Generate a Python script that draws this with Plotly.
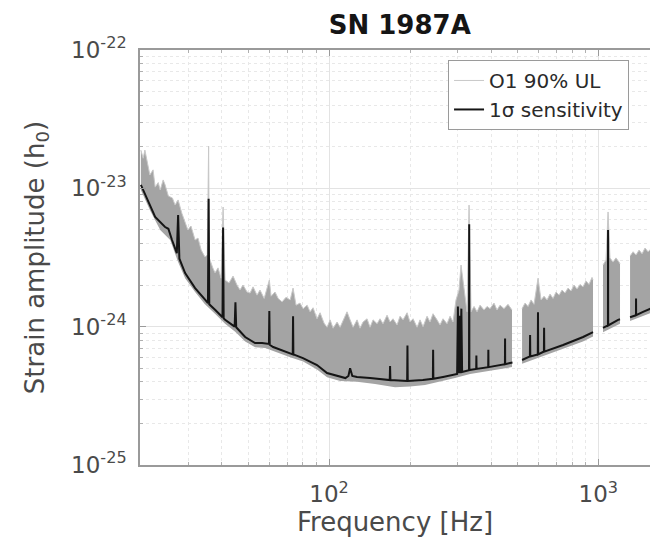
import plotly.graph_objects as go

# ---------------- data ----------------
# O1 90% upper limit: upper envelope of the noisy band (None = data gap)
ul_freq = [20.0, 20.4, 20.7, 21.1, 21.6, 22.2, 22.6, 23.2, 23.6, 24.2, 24.6, 25.3, 26.2, 26.8, 27.5,
           28.4, 29.2, 29.9, 30.7, 31.8, 32.6, 33.5, 34.6, 35.3, 35.7, 35.9, 37.0, 37.7, 38.7, 39.7,
           40.4, 41.1, 42.5, 44.0, 45.5, 46.7, 47.9, 49.6, 50.9, 52.2, 54.0, 55.4, 57.4, 60.0, 60.9,
           63.0, 64.7, 66.9, 69.2, 71.7, 73.5, 75.4, 78.0, 80.1, 82.9, 85.0, 87.2, 90.2, 92.6, 95.8,
           98.3, 100.9, 103.5, 107.1, 109.9, 113.7, 116.6, 119.7, 122.8, 127.1, 130.3, 133.7, 138.4,
           142.0, 145.7, 150.8, 154.6, 158.6, 164.2, 168.5, 172.8, 178.9, 183.5, 188.3, 194.9, 199.9,
           205.1, 212.3, 217.7, 223.4, 231.2, 237.1, 243.3, 251.8, 258.3, 265.0, 274.3, 281.4, 288.7,
           296.2, 303.9, 309.1, 314.4, 319.9, 325.4, 331.1, 336.8, 345.5, 354.5, 363.7, 376.4, 386.2,
           396.1, 409.9, 420.6, 431.5, 446.5, 462.0, 478.0, None,
           521, 534.5, 548.3, 562.6, 577.2, 597.2, 612.9, 628.8, 645.2, 661.8, 679.0, 696.7, 714.8,
           733.3, 752.3, 771.8, 792.0, 812.4, 833.6, 855.2, 877.4, 900.3, 923.6, 947.6, 955.7, None,
           1041, 1068, 1087, 1105, 1134, 1163, 1194, 1204, None,
           1312, 1346, 1381, 1417, 1454, 1491, 1530, 1556, 1590, 1620]
ul_high = [1.89e-23, 1.65e-23, 1.89e-23, 1.60e-23, 1.25e-23, 1.36e-23, 1.02e-23, 1.10e-23, 9.72e-24,
           1.15e-23, 1.06e-23, 8.8e-24, 8.5e-24, 7.57e-24, 8.24e-24, 6.6e-24, 5.7e-24, 5.0e-24,
           5.34e-24, 4.23e-24, 4.37e-24, 3.58e-24, 3.19e-24, 3.30e-24, 2.02e-23, 3.14e-24, 2.66e-24,
           2.45e-24, 2.66e-24, 2.24e-24, 7.33e-24, 2.17e-24, 2.07e-24, 2.32e-24, 2.00e-24, 1.84e-24,
           2.00e-24, 1.78e-24, 1.75e-24, 1.94e-24, 1.69e-24, 1.84e-24, 1.60e-24, 2.17e-24, 1.66e-24,
           1.78e-24, 1.60e-24, 1.51e-24, 1.63e-24, 1.56e-24, 1.90e-24, 1.43e-24, 1.48e-24, 1.35e-24,
           1.43e-24, 1.28e-24, 1.37e-24, 1.14e-24, 1.26e-24, 1.06e-24, 9.9e-25, 1.12e-24, 9.75e-25,
           1.08e-24, 9.9e-25, 1.14e-24, 1.28e-24, 1.12e-24, 9.9e-25, 1.12e-24, 9.75e-25, 1.08e-24,
           1.14e-24, 9.9e-25, 1.12e-24, 1.05e-24, 1.14e-24, 1.05e-24, 1.21e-24, 1.08e-24, 1.14e-24,
           1.03e-24, 1.19e-24, 1.12e-24, 1.26e-24, 1.08e-24, 1.14e-24, 9.9e-25, 1.12e-24, 1.0e-24,
           1.19e-24, 1.08e-24, 1.24e-24, 1.12e-24, 1.03e-24, 1.14e-24, 1.05e-24, 1.19e-24, 1.08e-24,
           1.56e-24, 1.84e-24, 2.79e-24, 2.17e-24, 1.56e-24, 1.28e-24, 7.57e-24, 1.28e-24, 1.40e-24,
           1.28e-24, 1.43e-24, 1.32e-24, 1.40e-24, 1.35e-24, 1.48e-24, 1.32e-24, 1.43e-24, 1.35e-24,
           1.45e-24, 1.32e-24, None,
           1.35e-24, 1.48e-24, 1.40e-24, 1.56e-24, 1.45e-24, 2.24e-24, 1.56e-24, 1.66e-24, 1.56e-24,
           1.72e-24, 1.60e-24, 1.78e-24, 1.69e-24, 1.84e-24, 1.75e-24, 1.90e-24, 1.81e-24, 2.00e-24,
           1.87e-24, 2.02e-24, 1.94e-24, 2.14e-24, 2.02e-24, 2.27e-24, 2.17e-24, None,
           2.79e-24, 3.03e-24, 6.75e-24, 3.14e-24, 2.93e-24, 3.14e-24, 2.93e-24, 2.84e-24, None,
           3.24e-24, 3.48e-24, 3.30e-24, 3.58e-24, 3.36e-24, 3.70e-24, 3.48e-24, 3.58e-24, 3.75e-24,
           3.6e-24]

# O1 90% upper limit: lower edge of the band
ul_low_freq = [20.0, 21.6, 23.6, 25.7, 27.5, 29.2, 31.8, 34.6, 37.7, 41.1, 44.8, 48.8, 53.1, 57.9,
               63.0, 71.7, 80.1, 90.2, 98.3, 109.9, 127.1, 148.2, 175.8, 199.9, 227.2, 265.0, 293.7,
               333.9, 396.1, 478.0, None,
               521, 623, 740, 877, 955.7, None,
               1041, 1204, None,
               1312, 1556, 1620]
ul_low = [9.72e-24, 6.97e-24, 5.0e-24, 4.23e-24, 2.93e-24, 2.24e-24, 1.78e-24, 1.45e-24, 1.24e-24,
          1.05e-24, 9.2e-25, 7.8e-25, 7.1e-25, 7.0e-25, 6.6e-25, 6.0e-25, 5.6e-25, 4.9e-25, 4.3e-25,
          4.05e-25, 4.0e-25, 3.85e-25, 3.65e-25, 3.7e-25, 3.79e-25, 4.05e-25, 4.25e-25, 4.55e-25,
          4.8e-25, 5.1e-25, None,
          5.4e-25, 6.1e-25, 6.9e-25, 7.8e-25, 8.5e-25, None,
          9.1e-25, 1.05e-24, None,
          1.10e-24, 1.25e-24, 1.28e-24]

# 1-sigma sensitivity curve
sens_freq = [20.0, 21.3, 22.6, 24.6, 25.3, 26.1, 27.2, 27.5, 27.8, 29.2, 31.8, 34.7, 35.5, 35.7, 35.9,
             37.8, 40.2, 40.4, 40.6, 41.1, 44.6, 44.9, 45.2, 48.8, 53.1, 56.4, 59.8, 60.0, 60.2, 62.0,
             71.7, 73.3, 73.5, 73.7, 80.0, 90.2, 98.3, 107, 115, 118, 119.7, 122, 127, 142, 168,
             168.5, 169, 195, 195.5, 196, 223, 243, 243.5, 244, 265, 299, 301, 303, 305, 307, 310,
             312, 331, 331.5, 332, 352, 352.5, 353, 390, 390.5, 391, 450, 450.5, 451, 470, 480, None,
             521, 557, 558, 559, 596, 597, 598, 623, 628, 629, 630, 740, 878, 956, None,
             1041, 1086, 1087, 1088, 1184, 1204, None,
             1312, 1380, 1381, 1382, 1466, 1556, 1620]
sens_h = [1.06e-23, 7.96e-24, 6.21e-24, 5.25e-24, 5.1e-24, 4.23e-24, 3.4e-24, 6.4e-24, 3.1e-24,
          2.44e-24, 1.90e-24, 1.56e-24, 1.48e-24, 8.4e-24, 1.45e-24, 1.32e-24, 1.17e-24, 5.2e-24,
          1.15e-24, 1.12e-24, 1.0e-24, 1.5e-24, 9.9e-25, 8.42e-25, 7.62e-25, 7.62e-25, 7.5e-25,
          1.3e-24, 7.4e-25, 7.13e-25, 6.45e-25, 6.3e-25, 1.19e-24, 6.3e-25, 5.93e-25, 5.28e-25,
          4.62e-25, 4.40e-25, 4.25e-25, 4.4e-25, 5.0e-25, 4.4e-25, 4.33e-25, 4.25e-25, 4.11e-25,
          5.2e-25, 4.11e-25, 4.05e-25, 7.3e-25, 4.05e-25, 4.11e-25, 4.2e-25, 6.8e-25, 4.2e-25,
          4.33e-25, 4.55e-25, 1.4e-24, 4.6e-25, 1.2e-24, 4.6e-25, 1.35e-24, 4.7e-25, 4.85e-25,
          5.5e-24, 4.86e-25, 4.95e-25, 6.2e-25, 4.95e-25, 5.1e-25, 6.8e-25, 5.1e-25, 5.35e-25,
          8.2e-25, 5.35e-25, 5.46e-25, 5.5e-25, None,
          5.74e-25, 6.1e-25, 8.7e-25, 6.1e-25, 6.3e-25, 1.27e-24, 6.3e-25, 6.56e-25, 6.6e-25,
          9.8e-25, 6.6e-25, 7.37e-25, 8.42e-25, 9.14e-25, None,
          9.8e-25, 1.02e-24, 5.0e-24, 1.02e-24, 1.12e-24, 1.13e-24, None,
          1.17e-24, 1.21e-24, 1.6e-24, 1.21e-24, 1.28e-24, 1.35e-24, 1.39e-24]

x_tick_vals = [100, 1000]
x_tick_text = ["10<sup>2</sup>", "10<sup>3</sup>"]
y_tick_vals = [1e-25, 1e-24, 1e-23, 1e-22]
y_tick_text = ["10<sup>-25</sup>", "10<sup>-24</sup>", "10<sup>-23</sup>", "10<sup>-22</sup>"]
x_minor_vals = [20, 30, 40, 50, 60, 70, 80, 90, 200, 300, 400, 500, 600, 700, 800, 900]
y_minor_vals = [m * 10.0 ** e for e in (-25, -24, -23) for m in range(2, 10)]


# ---------------- build band polygon from the envelope arrays ----------------
def segments(xs, ys):
    out, cx, cy = [], [], []
    for x, y in zip(xs, ys):
        if x is None:
            out.append((cx, cy))
            cx, cy = [], []
        else:
            cx.append(x)
            cy.append(y)
    out.append((cx, cy))
    return out


poly_x, poly_y = [], []
for (ux, uy), (lx, ly) in zip(segments(ul_freq, ul_high), segments(ul_low_freq, ul_low)):
    poly_x += ux + lx[::-1] + [None]
    poly_y += uy + ly[::-1] + [None]

fig = go.Figure()
fig.add_trace(go.Scatter(x=poly_x, y=poly_y, mode="lines", fill="toself",
                         fillcolor="#a4a4a4", line=dict(width=0, color="#a4a4a4"),
                         showlegend=False, hoverinfo="skip"))
fig.add_trace(go.Scatter(x=ul_freq, y=ul_high, mode="lines", name="O1 90% UL",
                         line=dict(color="#c8c8c8", width=1), connectgaps=False))
fig.add_trace(go.Scatter(x=sens_freq, y=sens_h, mode="lines", name="1\u03c3 sensitivity",
                         line=dict(color="#151515", width=2), connectgaps=False))

axis_common = dict(
    showline=True, linecolor="#9a9a9a", linewidth=1.5,
    ticks="inside", ticklen=6, tickcolor="#9a9a9a",
    showgrid=True, gridcolor="#e3e3e3", gridwidth=1,
    tickfont=dict(family="DejaVu Sans", size=23, color="#4a4a4a"),
    zeroline=False,
)

fig.update_xaxes(
    type="log", range=[1.2978, 3.192],
    tickmode="array", tickvals=x_tick_vals, ticktext=x_tick_text,
    mirror="allticks", ticklabelstandoff=8,
    minor=dict(tickmode="array", tickvals=x_minor_vals, ticks="inside", ticklen=3,
               tickcolor="#b0b0b0", showgrid=True, gridcolor="#e8e8e8", griddash="dot"),
    title=dict(text="Frequency [Hz]", standoff=6,
               font=dict(family="DejaVu Sans", size=26, color="#4a4a4a")),
    **axis_common,
)
fig.update_yaxes(
    type="log", range=[-25, -22],
    tickmode="array", tickvals=y_tick_vals, ticktext=y_tick_text,
    ticklabelstandoff=7,
    minor=dict(tickmode="array", tickvals=y_minor_vals, ticks="inside", ticklen=3,
               tickcolor="#b0b0b0", showgrid=True, gridcolor="#e8e8e8", griddash="dot"),
    title=dict(text="Strain amplitude (h<sub>0</sub>)", standoff=19,
               font=dict(family="DejaVu Sans", size=26, color="#4a4a4a")),
    **axis_common,
)

fig.update_layout(
    width=650, height=545,
    margin=dict(l=140, r=0, t=50, b=80, autoexpand=False),
    paper_bgcolor="white", plot_bgcolor="white",
    font=dict(family="DejaVu Sans", color="#4a4a4a"),
    title=dict(text="<b>SN 1987A</b>", x=0.615, xref="container", xanchor="center",
               y=0.954, yref="container", yanchor="middle",
               font=dict(family="DejaVu Sans", size=26, color="#151515")),
    legend=dict(x=0.604, y=0.976, xanchor="left", yanchor="top",
                bgcolor="white", bordercolor="#9a9a9a", borderwidth=1,
                font=dict(family="DejaVu Sans", size=20, color="#2a2a2a"),
                tracegroupgap=0, itemwidth=30),
    showlegend=True,
)

fig.write_html(
    "out.html",
    config={"displayModeBar": False},
    post_script="document.body.style.margin='0';document.body.style.overflow='hidden';",
)
